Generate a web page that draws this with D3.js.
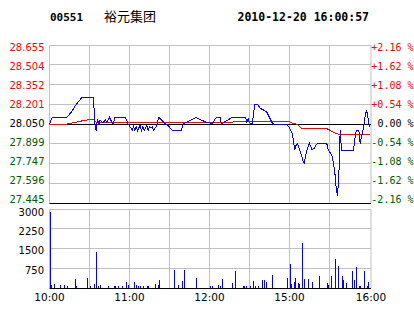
<!DOCTYPE html>
<html><head><meta charset="utf-8">
<script src="https://cdn.jsdelivr.net/npm/d3@7"></script>
<style>html,body{margin:0;padding:0;background:#fff;}svg{display:block;}</style>
</head><body>
<svg id="c" width="414" height="314"></svg>
<script>
// ---------- data ----------
const stockCode = "00551";
const stockName = "裕元集团";
const timestamp = "2010-12-20 16:00:57";
const prevClose = 28.050;
const priceTicks = [28.655, 28.504, 28.352, 28.201, 28.050, 27.899, 27.747, 27.596, 27.445];
const pctTicks = ["+2.16 %", "+1.62 %", "+1.08 %", "+0.54 %", "0.00 %", "-0.54 %", "-1.08 %", "-1.62 %", "-2.16 %"];
const volumeTicks = [3000, 2250, 1500, 750];
const timeLabels = ["10:00", "11:00", "12:00", "15:00", "16:00"];

const priceTimes = ["10:00","10:02","10:13","10:17","10:20","10:24","10:33","10:34","10:35","10:36","10:37","10:38","10:40","10:42","10:43","10:45","10:47","10:48","10:49","10:57","10:59","11:01","11:02","11:03","11:04","11:05","11:06","11:08","11:09","11:10","11:11","11:13","11:14","11:15","11:16","11:17","11:18","11:20","11:22","11:24","11:27","11:29","11:32","11:39","11:40","11:44","11:50","11:54","11:58","12:00","12:02","12:05","12:08","12:09","12:12","12:17","12:27","12:28","12:29","14:30","14:32","14:34","14:36","14:38","14:40","14:43","14:44","14:47","14:48","14:58","15:00","15:01","15:02","15:03","15:04","15:05","15:06","15:07","15:08","15:09","15:10","15:11","15:12","15:13","15:14","15:15","15:17","15:19","15:20","15:21","15:28","15:29","15:30","15:31","15:32","15:33","15:34","15:35","15:36","15:37","15:38","15:39","15:48","15:49","15:50","15:52","15:53","15:54","15:55","15:56","15:57","15:58","16:00"];
const prices = [28.05,28.10,28.10,28.15,28.20,28.25,28.25,28.05,28.00,28.09,28.05,28.08,28.06,28.08,28.06,28.10,28.06,28.05,28.10,28.10,28.05,28.02,28.00,28.03,28.00,28.03,28.00,28.04,28.00,28.03,28.00,28.04,28.00,28.03,28.02,28.03,28.00,28.03,28.10,28.08,28.05,28.04,28.00,28.00,28.05,28.07,28.10,28.08,28.06,28.06,28.05,28.10,28.10,28.05,28.07,28.10,28.10,28.065,28.09,28.06,28.05,28.20,28.20,28.17,28.16,28.14,28.12,28.06,28.05,28.05,28.02,28.00,27.98,27.92,27.85,27.89,27.90,27.87,27.84,27.81,27.77,27.75,27.80,27.85,27.88,27.90,27.85,27.87,27.89,27.90,27.90,27.85,27.84,27.82,27.80,27.75,27.68,27.56,27.50,27.65,28.00,27.85,27.85,27.93,28.00,28.00,27.90,27.95,28.00,28.05,28.13,28.15,28.03];

const avgTimes = ["10:00","10:13","10:18","10:24","10:30","10:33","10:35","11:37","11:38","12:15","12:17","14:40","14:59","15:03","15:06","15:08","15:09","15:28","15:31","15:35","15:38","16:00"];
const avgPrices = [28.050,28.050,28.060,28.073,28.084,28.086,28.065,28.065,28.059,28.059,28.065,28.071,28.071,28.053,28.048,28.027,28.015,28.015,27.998,27.976,27.969,27.969];

const volumeTimes = ["10:00","10:01","10:03","10:08","10:11","10:13","10:19","10:20","10:28","10:30","10:33","10:35","10:36","10:38","10:44","10:48","10:49","10:51","10:54","10:57","10:59","11:03","11:05","11:06","11:08","11:10","11:13","11:14","11:19","11:21","11:22","11:33","11:36","11:39","11:41","11:50","12:00","12:02","12:06","12:08","12:09","12:17","12:19","12:25","12:26","12:27","12:30","14:33","14:34","14:36","14:39","14:41","14:42","14:47","14:58","15:00","15:01","15:03","15:04","15:06","15:07","15:09","15:11","15:14","15:17","15:22","15:28","15:29","15:31","15:34","15:36","15:39","15:40","15:42","15:47","15:48","15:50","15:52","15:53","15:56","15:58","15:59"];
const volumes = [2900,110,150,110,110,90,340,90,390,90,150,1380,90,110,90,90,90,90,90,240,110,240,110,90,90,90,90,90,165,110,320,680,110,270,680,390,80,80,110,80,340,190,650,80,80,80,80,270,80,80,300,300,230,490,380,910,150,230,380,190,150,1710,340,340,230,460,190,110,460,1100,840,460,300,190,650,300,800,80,80,650,80,230];

// ---------- layout ----------
const svg = d3.select("#c");
const L = 49.5, R = 371, xEnd = 369.5;
const pTop = 45, pBot = 203, vTop = 209, vBot = 288;
const grid = "#c0c0c0", red = "#ff0000", green = "#005a00", blue = "#0000ff";
const axisFont = "DejaVu Sans, Verdana, sans-serif";
const monoFont = "DejaVu Sans Mono, monospace";

// trading minutes: 10:00-12:30 then 14:30-16:00
function toMin(s) {
  const [h, m] = s.split(":").map(Number);
  const v = h * 60 + m;
  return v <= 750 ? v - 600 : v - 870 + 150;
}
const x = d3.scaleLinear().domain([0, 240]).range([L, xEnd]);
const y = d3.scaleLinear().domain([27.445, 28.655]).range([pBot, pTop]);
const yLab = d3.scaleLinear().domain([27.445, 28.655]).range([199.3, 47.3]);
const yv = d3.scaleLinear().domain([0, 3000]).range([vBot, vTop]);
const yvLab = d3.scaleLinear().domain([0, 3000]).range([289.2, 212.3]);
const crisp = v => Math.floor(v) + 0.5;

// header
svg.append("text").attr("x", 50).attr("y", 20.5).attr("font-family", monoFont)
  .attr("font-weight", "bold").attr("font-size", 11).text(stockCode);
svg.append("text").attr("x", 104).attr("y", 20.5)
  .attr("font-family", "Noto Sans CJK SC, sans-serif").attr("font-size", 13).text(stockName);
svg.append("text").attr("x", 237.5).attr("y", 20.5).attr("font-family", monoFont)
  .attr("font-weight", "bold").attr("font-size", 11.5).text(timestamp);

// vertical grid (both panels)
const vgrid = d3.range(30, 240, 30);
[[pTop, pBot], [vTop, vBot]].forEach(([t, b]) => {
  svg.append("g").selectAll("line").data(vgrid).join("line")
    .attr("x1", d => crisp(x(d))).attr("x2", d => crisp(x(d)))
    .attr("y1", t).attr("y2", b).attr("stroke", grid);
});

// price panel horizontal grid
svg.append("g").selectAll("line").data(priceTicks.filter(v => v !== prevClose && v !== 27.445)).join("line")
  .attr("x1", L).attr("x2", R).attr("y1", d => crisp(y(d))).attr("y2", d => crisp(y(d))).attr("stroke", grid);
// frame sides
svg.append("line").attr("x1", L).attr("x2", L).attr("y1", pTop).attr("y2", pBot).attr("stroke", grid);
svg.append("line").attr("x1", R).attr("x2", R).attr("y1", pTop).attr("y2", pBot).attr("stroke", grid);
svg.append("line").attr("x1", L).attr("x2", R).attr("y1", crisp(y(27.445))).attr("y2", crisp(y(27.445))).attr("stroke", "#000");

// price labels
svg.append("g").selectAll("text").data(priceTicks).join("text")
  .attr("x", 44.5).attr("y", d => yLab(d)).attr("dy", "0.36em").attr("text-anchor", "end")
  .attr("font-family", axisFont).attr("font-size", 10)
  .attr("fill", d => d > prevClose ? red : d < prevClose ? green : "#000")
  .text(d => d.toFixed(3));
svg.append("g").selectAll("text").data(pctTicks).join("text")
  .attr("x", 413.5).attr("y", (d, i) => yLab(priceTicks[i])).attr("dy", "0.36em").attr("text-anchor", "end")
  .attr("font-family", monoFont).attr("font-size", 10)
  .attr("fill", d => d[0] === "+" ? red : d[0] === "-" ? green : "#000")
  .text(d => d);

// average line, prev close line, price line
const line = d3.line().x(d => x(toMin(d[0]))).y(d => y(d[1]));
svg.append("line").attr("x1", L).attr("x2", R).attr("y1", crisp(y(prevClose))).attr("y2", crisp(y(prevClose))).attr("stroke", "#000");
svg.append("path").datum(avgTimes.map((t, i) => [t, avgPrices[i]])).attr("d", line)
  .attr("fill", "none").attr("stroke", red).attr("stroke-width", 1).attr("shape-rendering", "crispEdges");
svg.append("path").datum(priceTimes.map((t, i) => [t, prices[i]])).attr("d", line)
  .attr("fill", "none").attr("stroke", blue).attr("stroke-width", 1).attr("shape-rendering", "crispEdges");

// volume panel
svg.append("g").selectAll("line").data(volumeTicks).join("line")
  .attr("x1", L).attr("x2", R).attr("y1", d => crisp(yv(d))).attr("y2", d => crisp(yv(d))).attr("stroke", grid);
svg.append("line").attr("x1", L).attr("x2", L).attr("y1", vTop).attr("y2", vBot).attr("stroke", grid);
svg.append("line").attr("x1", R).attr("x2", R).attr("y1", vTop).attr("y2", vBot).attr("stroke", grid);
svg.append("g").selectAll("rect").data(volumeTimes).join("rect")
  .attr("x", d => Math.round(x(toMin(d)))).attr("width", 1)
  .attr("y", (d, i) => yv(volumes[i])).attr("height", (d, i) => vBot - yv(volumes[i]))
  .attr("fill", blue).attr("shape-rendering", "crispEdges");
svg.append("line").attr("x1", L).attr("x2", R).attr("y1", crisp(vBot)).attr("y2", crisp(vBot)).attr("stroke", "#000");

svg.append("g").selectAll("text").data(volumeTicks).join("text")
  .attr("x", 44).attr("y", d => yvLab(d)).attr("dy", "0.36em").attr("text-anchor", "end")
  .attr("font-family", axisFont).attr("font-size", 10).attr("fill", "#000").text(d => d);

// time axis labels
svg.append("g").selectAll("text").data(timeLabels).join("text")
  .attr("x", d => toMin(d) === 240 ? R : x(toMin(d))).attr("y", 297.7).attr("dy", "0.36em")
  .attr("text-anchor", "middle").attr("font-family", axisFont).attr("font-size", 10.5)
  .attr("fill", "#000").text(d => d);
</script>
</body></html>
